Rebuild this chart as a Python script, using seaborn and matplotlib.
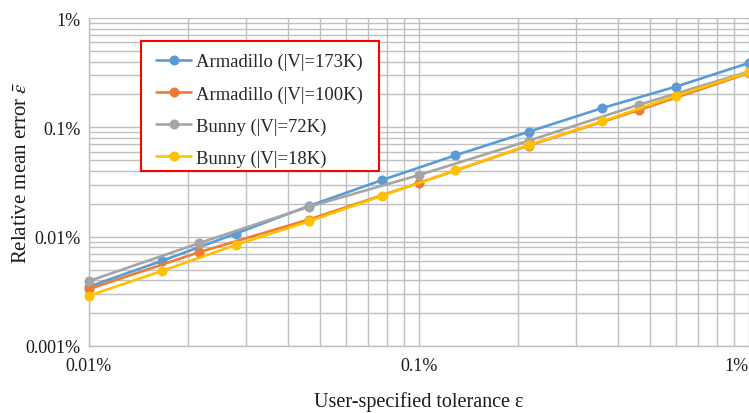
import matplotlib
matplotlib.use("Agg")
import matplotlib.pyplot as plt
import matplotlib.ticker as mticker
from matplotlib.patches import Rectangle
import seaborn as sns
import pandas as pd

# ---- data (percent units) ----
x_fine = [0.01, 0.0167, 0.0278, 0.0464, 0.0774, 0.129, 0.215, 0.359, 0.599, 1.0]
x_coarse = [0.01, 0.0215, 0.0464, 0.1, 0.215, 0.464, 1.0]

armadillo_173k = [0.00349, 0.00603, 0.01064, 0.0191, 0.0330, 0.0555, 0.0912, 0.150, 0.235, 0.388]
armadillo_100k = [0.00332, 0.00719, 0.01435, 0.0310, 0.0682, 0.144, 0.314]
bunny_72k = [0.00393, 0.00870, 0.0188, 0.0366, 0.0754, 0.161, 0.324]
bunny_18k = [0.00288, 0.00488, 0.00839, 0.01382, 0.0237, 0.0405, 0.0689, 0.1135, 0.1935, 0.3187]

labels = ["Armadillo (|V|=173K)", "Armadillo (|V|=100K)", "Bunny (|V|=72K)", "Bunny (|V|=18K)"]
colors = ["#5B9BD5", "#ED7D31", "#A5A5A5", "#FFC000"]
xs = [x_fine, x_coarse, x_coarse, x_fine]
ys = [armadillo_173k, armadillo_100k, bunny_72k, bunny_18k]

x_ticks = [0.01, 0.1, 1]
x_ticklabels = ["0.01%", "0.1%", "1%"]
y_ticks = [0.001, 0.01, 0.1, 1]
y_ticklabels = ["0.001%", "0.01%", "0.1%", "1%"]

sns.set_style("white")
plt.rcParams["font.family"] = ["Liberation Serif", "DejaVu Serif"]
plt.rcParams["mathtext.fontset"] = "stix"

W, H = 749, 414
fig = plt.figure(figsize=(W / 100, H / 100), dpi=100)
ax = fig.add_axes([89 / W, 1 - 347 / H, 660 / W, 328 / H])

for x, y, lab, c in zip(xs, ys, labels, colors):
    df = pd.DataFrame({"x": x, "y": y})
    sns.lineplot(data=df, x="x", y="y", ax=ax, color=c, label=lab,
                 marker="o", markersize=7.2, markeredgewidth=0, markeredgecolor=c,
                 linewidth=1.9, clip_on=False, zorder=3)

ax.set_xscale("log")
ax.set_yscale("log")
ax.set_xlim(0.01, 1)
ax.set_ylim(0.001, 1)

ax.xaxis.set_major_locator(mticker.FixedLocator(x_ticks))
ax.yaxis.set_major_locator(mticker.FixedLocator(y_ticks))
ax.xaxis.set_minor_locator(mticker.LogLocator(base=10, subs=range(2, 10), numticks=20))
ax.yaxis.set_minor_locator(mticker.LogLocator(base=10, subs=range(2, 10), numticks=20))
ax.xaxis.set_minor_formatter(mticker.NullFormatter())
ax.yaxis.set_minor_formatter(mticker.NullFormatter())
ax.set_xticklabels(x_ticklabels)
ax.set_yticklabels(y_ticklabels)
xt = ax.get_xticklabels()
xt[-1].set_ha("right")

ax.grid(True, which="both", color="#BFBFBF", linewidth=1.0)
ax.set_axisbelow(True)
ax.tick_params(which="both", length=0, labelsize=13, colors="#1a1a1a")
ax.tick_params(axis="x", pad=8)
ax.tick_params(axis="y", pad=6)

for s in ["top", "right"]:
    ax.spines[s].set_visible(False)
for s in ["left", "bottom"]:
    ax.spines[s].set_color("#BFBFBF")
    ax.spines[s].set_linewidth(1.0)

ax.set_xlabel("User-specified tolerance ε", fontsize=14.5, color="#1a1a1a", labelpad=12)
ax.set_ylabel(r"Relative mean error $\bar{\varepsilon}$", fontsize=15, color="#1a1a1a")
ax.yaxis.set_label_coords((31 - 89) / 660, (347 - 173) / 328)

# legend frame drawn as a rectangle (axes coords)
rect = Rectangle(((141 - 89) / 660, (347 - 171.5) / 328), 238 / 660, 129.5 / 328,
                 transform=ax.transAxes, facecolor="white", edgecolor="#FF0000",
                 linewidth=1.5, zorder=4, clip_on=False)
ax.add_patch(rect)

leg = ax.legend(loc="upper left", bbox_to_anchor=((156 - 89) / 660, (347 - 54) / 328),
                borderaxespad=0, fontsize=13.4, frameon=False,
                handlelength=1.9, handletextpad=0.25, labelspacing=0.8, borderpad=0)
leg.set_zorder(5)

fig.savefig("out.png", dpi=100)
